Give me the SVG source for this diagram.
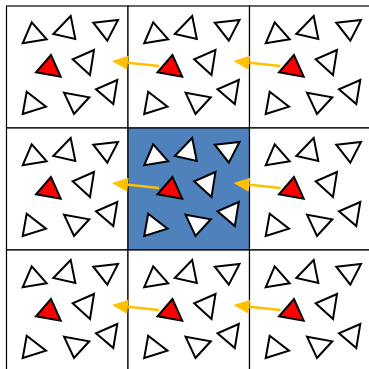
<svg xmlns="http://www.w3.org/2000/svg" xmlns:xlink="http://www.w3.org/1999/xlink" width="369" height="369" viewBox="0 0 369 369">
<style>
.cell{fill:#ffffff;stroke:#000;stroke-width:1.2}
.hl{fill:#4F81BD}
.tri{fill:#ffffff;stroke:#000;stroke-width:2;stroke-linejoin:miter}
.red{fill:#FF0000;stroke:#000;stroke-width:2}
.arr{stroke:#FFC000;stroke-width:2.6;fill:none;marker-end:url(#ah)}
</style>
<defs>
<marker id="ah" markerUnits="userSpaceOnUse" markerWidth="17" markerHeight="15" refX="0" refY="7" orient="auto" overflow="visible">
<path d="M0,0 L16,7 L0,14 Z" fill="#FFC000"/>
</marker>
<g id="tris">
<polygon class="tri" points="31.7,22.3 22.7,43.3 46.7,39.3"/>
<polygon class="tri" points="70.7,16 53.3,34 75.3,39"/>
<polygon class="tri" points="93.3,22.7 118,20 107.3,40.7"/>
<polygon class="red" points="51,55 36,72.3 60.7,76.7"/>
<polygon class="tri" points="94,50 72.7,59.3 90,75"/>
<polygon class="tri" points="26.7,91.7 22.7,114 46,106.7"/>
<polygon class="tri" points="64,92.7 89.3,97.3 74,114"/>
<polygon class="tri" points="117.3,80 96,89.3 113.3,104"/>
</g>
</defs>
<rect x="0" y="0" width="369" height="369" fill="#ffffff"/>
<g id="cell-0-0"><rect class="cell" x="6.5" y="6" width="121.5" height="122"/><use xlink:href="#tris"/></g>
<g id="cell-0-1"><rect class="cell" x="128" y="6" width="121.5" height="122"/><use xlink:href="#tris" transform="translate(121.5,0)"/></g>
<g id="cell-0-2"><rect class="cell" x="249.5" y="6" width="121.5" height="122"/><use xlink:href="#tris" transform="translate(243,0)"/></g>
<g id="cell-1-0"><rect class="cell" x="6.5" y="128" width="121.5" height="122"/><use xlink:href="#tris" transform="translate(0,122)"/></g>
<g id="cell-1-1"><rect class="cell hl" x="128" y="128" width="121.5" height="122"/><use xlink:href="#tris" transform="translate(121.5,122)"/></g>
<g id="cell-1-2"><rect class="cell" x="249.5" y="128" width="121.5" height="122"/><use xlink:href="#tris" transform="translate(243,122)"/></g>
<g id="cell-2-0"><rect class="cell" x="6.5" y="250" width="121.5" height="122"/><use xlink:href="#tris" transform="translate(0,244)"/></g>
<g id="cell-2-1"><rect class="cell" x="128" y="250" width="121.5" height="122"/><use xlink:href="#tris" transform="translate(121.5,244)"/></g>
<g id="cell-2-2"><rect class="cell" x="249.5" y="250" width="121.5" height="122"/><use xlink:href="#tris" transform="translate(243,244)"/></g>
<g id="connectors">
<line class="arr" x1="159" y1="66" x2="127.9" y2="62.7"/>
<line class="arr" x1="280.5" y1="66" x2="249.4" y2="62.7"/>
<line class="arr" x1="159" y1="188" x2="127.9" y2="184.7"/>
<line class="arr" x1="280.5" y1="188" x2="249.4" y2="184.7"/>
<line class="arr" x1="159" y1="310" x2="127.9" y2="306.7"/>
<line class="arr" x1="280.5" y1="310" x2="249.4" y2="306.7"/>
</g>
</svg>
